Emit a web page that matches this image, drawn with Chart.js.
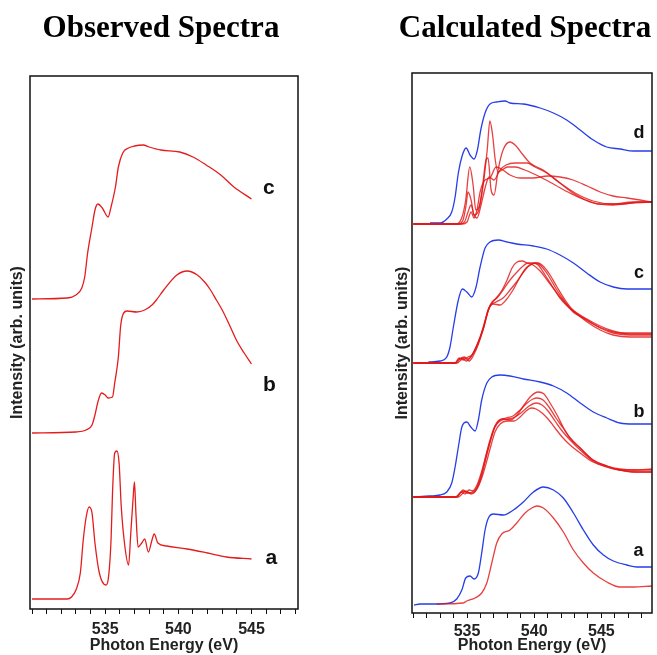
<!DOCTYPE html>
<html><head><meta charset="utf-8">
<script src="https://cdn.jsdelivr.net/npm/chart.js@4/dist/chart.umd.min.js"></script>
<style>
html,body{margin:0;padding:0;background:#fff;}
#wrap{position:relative;width:657px;height:655px;overflow:hidden;background:#fff;}
canvas{position:absolute;top:0;}
.t{position:absolute;font-family:'Liberation Serif','Times New Roman',serif;font-weight:bold;font-size:31px;line-height:31px;white-space:nowrap;transform:translateX(-50%);top:11px;color:#000;}
.lb{position:absolute;font-family:'Liberation Sans',Arial,sans-serif;font-weight:bold;line-height:1;color:#111;}
</style></head>
<body><div id="wrap">
<canvas id="obs" width="322" height="655" style="left:0px"></canvas>
<canvas id="calc" width="272" height="655" style="left:385px"></canvas>
<div class="t" style="left:161px">Observed Spectra</div>
<div class="t" style="left:525px">Calculated Spectra</div>
<div class="lb" style="left:263px;top:176px;font-size:21px">c</div>
<div class="lb" style="left:263px;top:373px;font-size:21px">b</div>
<div class="lb" style="left:265.5px;top:545.5px;font-size:21px">a</div>
<div class="lb" style="left:633.5px;top:123px;font-size:18px">d</div>
<div class="lb" style="left:634px;top:262.5px;font-size:18px">c</div>
<div class="lb" style="left:633.5px;top:401.5px;font-size:18px">b</div>
<div class="lb" style="left:633.5px;top:541px;font-size:18px">a</div>
</div>
<script>
// ---------- Observed spectra (photon energy eV, intensity arb. units incl. offset) ----------
const obsEnergyC = [530.0, 532.4, 533.0, 533.4, 533.6, 533.8, 534.1, 534.3, 534.5, 534.8, 535.2, 535.4, 535.7, 535.9, 536.2, 536.6, 537.0, 537.6, 538.0, 538.8, 540.1, 541.0, 541.9, 542.9, 543.8, 545.0];
const obsIntensityC = [310, 311, 314, 321, 332, 356, 382, 399, 405, 401, 392, 402, 422, 442, 456, 461, 463, 464, 462, 459, 457, 452, 444, 434, 422, 410];
const obsEnergyB = [530.0, 533.0, 533.7, 534.1, 534.3, 534.5, 534.75, 535.0, 535.2, 535.5, 535.65, 535.9, 536.05, 536.2, 536.5, 537.15, 537.7, 538.2, 538.5, 539.0, 539.9, 540.6, 541.3, 541.8, 542.2, 542.6, 543.0, 543.4, 544.0, 544.5, 545.0];
const obsIntensityB = [176, 177, 179, 184, 194, 207, 216, 214, 211, 212, 226, 252, 282, 294, 298, 297, 299, 304, 309, 319, 334, 338, 334, 327, 319, 309, 299, 287, 268, 256, 245];
const obsEnergyA = [530.0, 532.4, 532.7, 533.0, 533.3, 533.5, 533.7, 533.9, 534.1, 534.3, 534.6, 535.05, 535.2, 535.4, 535.5, 535.65, 535.8, 535.95, 536.1, 536.35, 536.6, 536.75, 536.9, 537.0, 537.1, 537.25, 537.5, 537.7, 537.95, 538.2, 538.35, 538.6, 539.2, 540.6, 542.0, 543.3, 545.0];
const obsIntensityA = [10, 10, 12, 19, 36, 69, 92, 102, 96, 66, 36, 24, 29, 69, 116, 156, 158, 146, 102, 62, 44, 76, 109, 127, 96, 62, 66, 70, 57, 69, 75, 66, 63, 60, 56, 52, 50];

// ---------- Calculated spectra ----------
const calcEnergyDBlue = [532.24, 532.99, 533.49, 533.86, 534.11, 534.35, 534.61, 534.93, 535.22, 535.52, 535.77, 536.02, 536.34, 536.71, 537.21, 537.83, 538.2, 539.19, 540.44, 541.43, 542.42, 543.42, 544.4, 545.4, 546.39, 547.38, 548.75];
const calcIntensityDBlue = [390, 390, 394, 401, 416, 440, 456, 465, 458, 454, 463, 483, 500, 509, 511, 512, 510, 509, 505, 500, 493, 483, 473, 466, 464, 462, 462];
const calcEnergyD1 = [531.0, 533.0, 534.1, 534.6, 534.9, 535.2, 535.45, 535.65, 535.95, 536.25, 536.5, 536.7, 536.9, 537.1, 537.3, 537.6, 538.0, 538.6, 539.3, 540.45, 541.55, 542.65, 543.8, 544.9, 546.4, 547.9, 548.75];
const calcIntensityD1 = [389, 389, 389, 395, 413, 446, 428, 403, 408, 433, 463, 492, 478, 453, 441, 443, 446, 446, 443, 436, 428, 420, 413, 409, 409, 411, 411];
const calcEnergyD2 = [531.0, 534.33, 534.7, 534.93, 535.07, 535.3, 535.52, 535.82, 536.12, 536.41, 536.56, 536.79, 537.01, 537.31, 537.68, 538.2, 538.65, 539.17, 539.69, 540.66, 541.92, 542.89, 544.38, 545.87, 547.36, 548.75];
const calcIntensityD2 = [389, 389, 393, 408, 421, 413, 398, 401, 423, 453, 455, 423, 418, 443, 463, 471, 467, 458, 450, 443, 430, 420, 410, 408, 410, 411];
const calcEnergyD3 = [531.0, 534.48, 534.85, 535.07, 535.3, 535.52, 535.74, 536.04, 536.34, 536.64, 537.01, 537.46, 537.9, 538.57, 539.47, 540.06, 540.81, 541.92, 543.04, 544.38, 545.87, 547.36, 548.75];
const calcIntensityD3 = [389, 389, 392, 401, 408, 398, 395, 408, 425, 436, 433, 443, 448, 450, 450, 446, 441, 430, 420, 412, 409, 411, 411];
const calcEnergyD4 = [531.0, 534.63, 535.0, 535.3, 535.52, 535.74, 535.97, 536.34, 536.71, 537.16, 537.68, 538.2, 538.95, 539.91, 541.03, 541.92, 542.89, 543.94, 544.91, 545.87, 546.91, 547.88, 548.75];
const calcIntensityD4 = [389, 389, 391, 401, 395, 403, 421, 433, 435, 446, 443, 438, 435, 435, 437, 436, 433, 427, 421, 417, 415, 413, 411];

const calcEnergyCBlue = [532.12, 532.99, 533.49, 533.73, 533.98, 534.35, 534.65, 534.98, 535.35, 535.67, 535.97, 536.34, 536.71, 537.33, 537.96, 538.7, 539.94, 540.93, 541.92, 542.92, 543.91, 544.9, 545.89, 546.89, 548.75];
const calcIntensityCBlue = [251, 252, 256, 266, 286, 313, 324, 321, 316, 326, 346, 365, 371, 373, 371, 369, 367, 364, 358, 350, 340, 331, 326, 324, 324];
const calcEnergyC1 = [531.0, 534.11, 534.33, 534.63, 534.93, 535.22, 535.67, 536.19, 536.56, 536.86, 537.23, 537.61, 537.98, 538.35, 538.72, 539.1, 539.47, 539.91, 540.44, 540.96, 541.41, 541.92, 542.45, 542.89, 543.94, 544.91, 545.87, 547.14, 548.75];
const calcIntensityC1 = [250, 250, 253, 255, 252, 255, 266, 283, 302, 310, 316, 323, 333, 345, 351, 352, 350, 348, 342, 333, 325, 316, 308, 301, 293, 285, 280, 278, 278];
const calcEnergyC2 = [531.0, 534.11, 534.4, 534.7, 535.07, 535.37, 535.74, 536.19, 536.56, 536.86, 537.23, 537.68, 538.2, 538.72, 539.17, 539.54, 539.91, 540.29, 540.81, 541.33, 541.92, 542.45, 542.89, 543.94, 544.91, 545.87, 547.14, 548.75];
const calcIntensityC2 = [250, 250, 255, 253, 256, 258, 268, 285, 303, 311, 315, 323, 333, 341, 347, 350, 350, 348, 338, 327, 315, 307, 302, 291, 283, 278, 276, 276];
const calcEnergyC3 = [531.0, 534.26, 534.55, 534.85, 535.15, 535.45, 535.82, 536.27, 536.64, 536.94, 537.46, 537.9, 538.42, 538.95, 539.39, 539.77, 540.14, 540.51, 541.03, 541.55, 542.08, 542.67, 543.42, 544.38, 545.42, 546.39, 548.75];
const calcIntensityC3 = [250, 250, 253, 255, 252, 257, 268, 287, 305, 309, 308, 313, 323, 336, 345, 349, 350, 347, 338, 326, 315, 305, 297, 289, 283, 280, 280];
const calcEnergyC4 = [531.0, 534.18, 534.48, 534.78, 535.07, 535.52, 535.97, 536.41, 536.71, 537.16, 537.68, 538.2, 538.8, 539.32, 539.84, 540.29, 540.73, 541.18, 541.7, 542.3, 542.89, 543.79, 544.91, 545.87, 547.14, 548.75];
const calcIntensityC4 = [250, 250, 254, 256, 254, 261, 275, 295, 307, 311, 315, 323, 333, 343, 349, 350, 346, 338, 326, 313, 303, 295, 287, 282, 279, 279];

const calcEnergyBBlue = [531.0, 532.24, 532.99, 533.49, 533.86, 534.11, 534.4, 534.61, 534.98, 535.28, 535.6, 535.84, 536.09, 536.47, 536.84, 537.46, 538.2, 539.19, 540.44, 541.43, 542.42, 543.42, 544.4, 545.4, 546.39, 547.38, 548.75];
const calcIntensityBBlue = [116, 117, 118, 121, 130, 146, 170, 186, 191, 186, 182, 193, 213, 230, 236, 238, 237, 234, 231, 227, 220, 210, 201, 195, 190, 189, 189];
const calcEnergyB1 = [531.0, 534.11, 534.48, 534.7, 535.0, 535.37, 535.74, 536.12, 536.41, 536.71, 537.01, 537.31, 537.68, 538.2, 538.72, 539.24, 539.77, 540.29, 540.73, 541.18, 541.7, 542.15, 542.67, 543.42, 544.38, 545.42, 546.39, 547.51, 548.75];
const calcIntensityB1 = [116, 116, 120, 123, 120, 121, 128, 143, 158, 173, 185, 192, 194, 193, 198, 208, 217, 221, 219, 210, 198, 186, 175, 165, 153, 147, 144, 143, 143];
const calcEnergyB2 = [531.0, 534.26, 534.55, 534.85, 535.15, 535.52, 535.89, 536.19, 536.49, 536.79, 537.08, 537.46, 537.9, 538.42, 538.95, 539.47, 539.91, 540.21, 540.66, 541.1, 541.62, 542.15, 542.67, 543.42, 544.38, 545.42, 546.39, 547.51, 548.75];
const calcIntensityB2 = [116, 116, 121, 119, 123, 122, 131, 145, 161, 175, 187, 193, 195, 197, 203, 210, 214, 215, 213, 206, 195, 185, 175, 165, 153, 147, 143, 141, 141];
const calcEnergyB3 = [531.0, 534.33, 534.63, 534.93, 535.3, 535.67, 536.04, 536.34, 536.64, 536.94, 537.23, 537.61, 538.05, 538.57, 539.1, 539.62, 540.14, 540.58, 541.03, 541.55, 542.08, 542.67, 543.42, 544.38, 545.42, 546.39, 547.51, 548.75];
const calcIntensityB3 = [116, 116, 119, 122, 119, 123, 135, 151, 167, 181, 189, 193, 194, 196, 201, 207, 210, 208, 202, 192, 182, 173, 163, 152, 146, 143, 143, 144];
const calcEnergyB4 = [531.0, 534.18, 534.48, 534.78, 535.07, 535.45, 535.82, 536.19, 536.49, 536.79, 537.08, 537.46, 537.98, 538.5, 538.95, 539.39, 539.77, 540.14, 540.58, 541.03, 541.55, 542.08, 542.67, 543.42, 544.38, 545.42, 546.39, 547.51, 548.75];
const calcIntensityB4 = [116, 116, 120, 122, 120, 120, 126, 139, 153, 168, 181, 189, 192, 192, 196, 202, 205, 204, 200, 194, 185, 176, 168, 160, 151, 146, 143, 141, 141];

const calcEnergyABlue = [531.05, 531.5, 532.49, 533.73, 534.23, 534.61, 534.9, 535.22, 535.52, 535.84, 536.09, 536.34, 536.59, 536.96, 537.7, 538.45, 539.19, 539.94, 540.68, 541.43, 542.17, 542.92, 543.66, 544.4, 545.15, 545.89, 546.89, 547.64, 548.75];
const calcIntensityABlue = [8, 9, 9, 10, 14, 23, 35, 37, 34, 40, 60, 83, 95, 99, 98, 103, 111, 121, 126, 123, 115, 100, 83, 68, 58, 52, 48, 46, 46];
const calcEnergyARed = [532.74, 534.72, 534.98, 535.6, 536.09, 536.47, 536.84, 537.21, 537.58, 538.2, 538.7, 539.32, 539.82, 540.19, 540.68, 541.43, 542.17, 542.92, 543.66, 544.4, 545.4, 546.39, 547.38, 548.75];
const calcIntensityARed = [9, 10, 12, 15, 20, 30, 50, 70, 79, 83, 90, 100, 105, 107, 105, 95, 81, 63, 50, 40, 31, 26, 26, 27];

// labelled tick values on both energy axes
const energyTickLabels = [535, 540, 545];

// ---------- styling ----------
const FONT = "'Liberation Sans', Arial, sans-serif";
const RED_OBS = 'rgb(228,28,28)';
const RED_CALC = 'rgba(226,22,22,0.82)';
const BLUE = 'rgb(38,62,232)';

function series(E, I, color) {
  return {
    data: E.map((e, i) => ({x: e, y: I[i]})),
    borderColor: color, borderWidth: 1.3, pointRadius: 0, fill: false,
    cubicInterpolationMode: 'monotone', tension: 0
  };
}

const boxPlugin = {
  id: 'box',
  afterDraw(chart) {
    const {ctx, chartArea: a} = chart;
    ctx.save();
    ctx.strokeStyle = '#111';
    ctx.lineWidth = 1.5;
    ctx.strokeRect(a.left, a.top, a.right - a.left, a.bottom - a.top);
    ctx.restore();
  }
};

function makeOptions(xmin, xmax, ymax, pad, yWidth, xHeight, tickPad) {
  return {
    responsive: false, animation: false, devicePixelRatio: 1,
    layout: {padding: pad},
    plugins: {legend: {display: false}, tooltip: {enabled: false}, title: {display: false}},
    scales: {
      x: {
        type: 'linear', min: xmin, max: xmax,
        border: {display: false},
        grid: {drawOnChartArea: false, drawTicks: true, tickLength: 5, color: '#111', lineWidth: 1},
        ticks: {
          stepSize: 1, autoSkip: false, maxRotation: 0, minRotation: 0, includeBounds: false,
          padding: tickPad, color: '#222', font: {family: FONT, size: 16, weight: 'bold'},
          callback: (v) => (energyTickLabels.some(t => Math.abs(t - v) < 1e-6) ? String(Math.round(v)) : '')
        },
        title: {display: true, text: 'Photon Energy (eV)', color: '#222',
          font: {family: FONT, size: 16, weight: 'bold'}, padding: {top: 0, bottom: 0}},
        afterFit(s) { s.height = xHeight; }
      },
      y: {
        type: 'linear', min: 0, max: ymax,
        border: {display: false},
        grid: {display: false},
        ticks: {display: false},
        title: {display: true, text: 'Intensity (arb. units)', color: '#222',
          font: {family: FONT, size: 16, weight: 'bold'}, padding: {top: 8.4, bottom: 0}},
        afterFit(s) { s.width = yWidth; }
      }
    }
  };
}

new Chart(document.getElementById('obs'), {
  type: 'line',
  data: {datasets: [
    series(obsEnergyC, obsIntensityC, RED_OBS),
    series(obsEnergyB, obsIntensityB, RED_OBS),
    series(obsEnergyA, obsIntensityA, RED_OBS)
  ]},
  options: makeOptions(529.86, 548.18, 533, {left: 0, right: 24, top: 76, bottom: 0}, 30, 46, 6),
  plugins: [boxPlugin]
});

new Chart(document.getElementById('calc'), {
  type: 'line',
  data: {datasets: [
    series(calcEnergyD1, calcIntensityD1, RED_CALC),
    series(calcEnergyD2, calcIntensityD2, RED_CALC),
    series(calcEnergyD3, calcIntensityD3, RED_CALC),
    series(calcEnergyD4, calcIntensityD4, RED_CALC),
    series(calcEnergyC1, calcIntensityC1, RED_CALC),
    series(calcEnergyC2, calcIntensityC2, RED_CALC),
    series(calcEnergyC3, calcIntensityC3, RED_CALC),
    series(calcEnergyC4, calcIntensityC4, RED_CALC),
    series(calcEnergyB1, calcIntensityB1, RED_CALC),
    series(calcEnergyB2, calcIntensityB2, RED_CALC),
    series(calcEnergyB3, calcIntensityB3, RED_CALC),
    series(calcEnergyB4, calcIntensityB4, RED_CALC),
    series(calcEnergyARed, calcIntensityARed, RED_CALC),
    series(calcEnergyDBlue, calcIntensityDBlue, BLUE),
    series(calcEnergyCBlue, calcIntensityCBlue, BLUE),
    series(calcEnergyBBlue, calcIntensityBBlue, BLUE),
    series(calcEnergyABlue, calcIntensityABlue, BLUE)
  ]},
  options: makeOptions(530.9, 548.77, 540, {left: 0, right: 5, top: 73, bottom: 0}, 27, 42, 4),
  plugins: [boxPlugin]
});
</script>
</body></html>
